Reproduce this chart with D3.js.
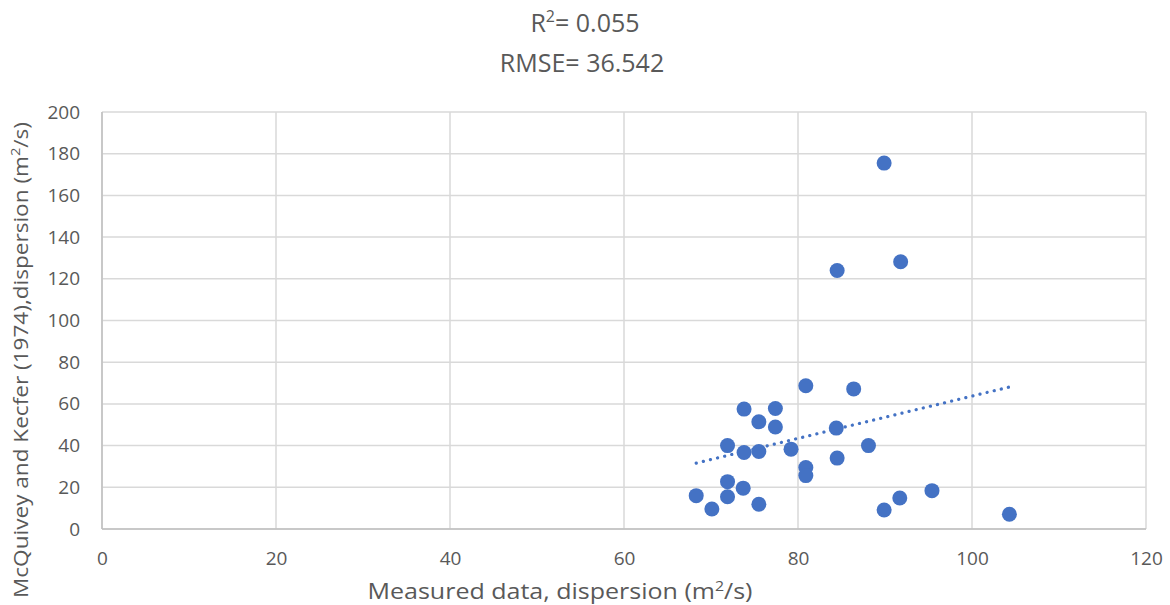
<!DOCTYPE html>
<html>
<head>
<meta charset="utf-8">
<script src="https://cdn.jsdelivr.net/npm/d3@7"></script>
<style>
body{margin:0;background:#fff;}
text{font-family:"Open Sans","Noto Sans",sans-serif;fill:#595959;}
</style>
</head>
<body>
<svg id="chart" width="1170" height="605"></svg>
<script>
const xTicks = [0, 20, 40, 60, 80, 100, 120];
const yTicks = [0, 20, 40, 60, 80, 100, 120, 140, 160, 180, 200];
const measured = [89.9, 91.8, 84.5, 80.9, 86.4, 73.8, 77.4, 75.5, 77.4, 84.4, 71.9, 73.8, 75.5, 79.2, 88.1, 84.5, 80.9, 80.9, 71.9, 73.7, 71.9, 68.3, 70.1, 75.5, 89.9, 91.7, 95.4, 104.3];
const predicted = [175.5, 128.2, 124.0, 68.7, 67.2, 57.5, 57.8, 51.4, 48.9, 48.4, 40.0, 36.7, 37.2, 38.3, 40.0, 34.0, 29.5, 25.6, 22.7, 19.6, 15.5, 16.0, 9.6, 11.9, 9.1, 14.9, 18.4, 7.1];
const trendX = [68.3, 104.3];
const trendY = [31.6, 68.1];
const titleLines = ["R²= 0.055", "RMSE= 36.542"];
const xTitle = "Measured data, dispersion (m²/s)";
const yTitle = "McQuivey and Kecfer (1974),dispersion (m²/s)";

const svg = d3.select("#chart");
const m = {left: 102, right: 1170 - 1146, top: 112, bottom: 605 - 529};
const W = 1170 - m.left - m.right, H = 605 - m.top - m.bottom;
const x = d3.scaleLinear().domain([0, 120]).range([m.left, m.left + W]);
const y = d3.scaleLinear().domain([0, 200]).range([m.top + H, m.top]);

// gridlines
svg.append("g").selectAll("line").data(yTicks).join("line")
  .attr("x1", x(0)).attr("x2", x(120)).attr("y1", d => y(d)).attr("y2", d => y(d))
  .attr("stroke", "#d9d9d9").attr("stroke-width", 1.5);
svg.append("g").selectAll("line").data(xTicks).join("line")
  .attr("y1", y(0)).attr("y2", y(200)).attr("x1", d => x(d)).attr("x2", d => x(d))
  .attr("stroke", "#d9d9d9").attr("stroke-width", 1.5);
// axis lines
svg.append("line").attr("x1", x(0)).attr("x2", x(120)).attr("y1", y(0)).attr("y2", y(0))
  .attr("stroke", "#bfbfbf").attr("stroke-width", 1.5);
svg.append("line").attr("x1", x(0)).attr("x2", x(0)).attr("y1", y(0)).attr("y2", y(200))
  .attr("stroke", "#bfbfbf").attr("stroke-width", 1.5);

// axes tick labels
const xAxis = d3.axisBottom(x).tickValues(xTicks).tickSize(0).tickPadding(23);
const gx = svg.append("g").attr("transform", `translate(0,${y(0)})`).call(xAxis);
gx.select(".domain").remove();
gx.selectAll("text").style("font-size", "19px").style("fill", "#595959").style("font-family", null);
const yAxis = d3.axisLeft(y).tickValues(yTicks).tickSize(0).tickPadding(22);
const gy = svg.append("g").attr("transform", `translate(${x(0)},0)`).call(yAxis);
gy.select(".domain").remove();
gy.selectAll("text").style("font-size", "19px").style("fill", "#595959");
svg.selectAll(".tick text").attr("font-family", null);

// trendline
svg.append("path")
  .datum(trendX.map((d, i) => [d, trendY[i]]))
  .attr("d", d3.line().x(d => x(d[0])).y(d => y(d[1])))
  .attr("fill", "none").attr("stroke", "#4472c4").attr("stroke-width", 3.2)
  .attr("stroke-linecap", "round").attr("stroke-dasharray", "0.1 7.2");

// points
svg.append("g").selectAll("circle").data(measured).join("circle")
  .attr("cx", d => x(d)).attr("cy", (d, i) => y(predicted[i])).attr("r", 7.5)
  .attr("fill", "#4472c4");

// titles
svg.append("text").attr("x", 585).attr("y", 32).attr("text-anchor", "middle")
  .style("font-size", "25px")
  .html('R<tspan dy="-10" font-size="16">2</tspan><tspan dy="10">= 0.055</tspan>');
svg.append("text").attr("x", 582).attr("y", 72).attr("text-anchor", "middle")
  .style("font-size", "25px").text(titleLines[1]);

svg.append("text").attr("x", 560).attr("y", 599).attr("text-anchor", "middle")
  .style("font-size", "22px")
  .attr("textLength", 385).attr("lengthAdjust", "spacingAndGlyphs")
  .html('Measured data, dispersion (m<tspan dy="-8" font-size="14">2</tspan><tspan dy="8">/s)</tspan>');

svg.append("text").attr("transform", "translate(28,360) rotate(-90)").attr("text-anchor", "middle")
  .style("font-size", "20px")
  .attr("textLength", 476).attr("lengthAdjust", "spacingAndGlyphs")
  .html('McQuivey and Kecfer (1974),dispersion (m<tspan dy="-8" font-size="13">2</tspan><tspan dy="8">/s)</tspan>');
</script>
</body>
</html>
